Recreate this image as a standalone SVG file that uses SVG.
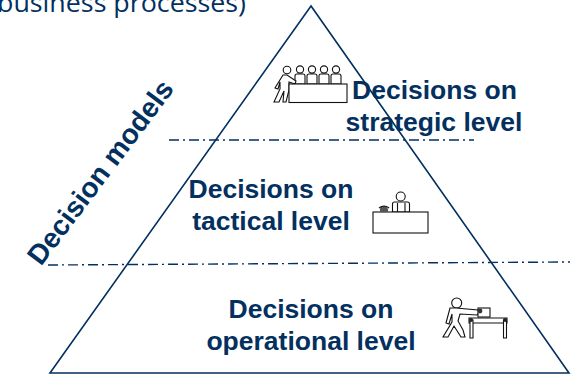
<svg xmlns="http://www.w3.org/2000/svg" width="571" height="375" viewBox="0 0 571 375">
<style>
.b{font-family:"Liberation Sans",Arial,sans-serif;font-weight:bold;font-size:26.5px;fill:#03305f;text-anchor:middle}
.t{font-family:"Open Sans","Noto Sans",sans-serif;font-size:25px;fill:#03305f}
.i{fill:#fff;stroke:#111;stroke-width:1.1}
.d{fill:none;stroke:#03305f;stroke-width:1.4;stroke-dasharray:10 4 2 4}
.r{font-size:28px}
</style>
<rect width="571" height="375" fill="#fff"/>
<text class="t" x="-3" y="12" textLength="249" lengthAdjust="spacingAndGlyphs">business processes)</text>
<g id="connectors">
<path d="M311 6L50 373H569Z" fill="none" stroke="#03305f" stroke-width="1.6"/>
<path class="d" d="M169 140H474"/>
<path class="d" d="M48 265L570 262"/>
</g>
<g id="strategic">
<g id="board">
<circle class="i" cx="300" cy="69.500" r="3.600"/><path class="i" d="M295 84V76Q295 74 297 74H303Q305 74 305 76V84Z"/>
<circle class="i" cx="312" cy="69.500" r="3.600"/><path class="i" d="M307 84V76Q307 74 309 74H315Q317 74 317 76V84Z"/>
<circle class="i" cx="324" cy="69.500" r="3.600"/><path class="i" d="M319 84V76Q319 74 321 74H327Q329 74 329 76V84Z"/>
<circle class="i" cx="336" cy="69.500" r="3.600"/><path class="i" d="M331 84V76Q331 74 333 74H339Q341 74 341 76V84Z"/>
<circle class="i" cx="287" cy="70" r="3.800"/>
<path class="i" d="M283 75L287 75L296 81L295 84L289 82L289 90L286 102H283L284 91L279 102H274L280 89L280 82L278 89L275 88Z"/>
<rect class="i" x="289" y="84" width="58" height="18.500"/>
</g>
<text class="b" x="434.500" y="99">Decisions on</text>
<text class="b" x="434" y="131">strategic level</text>
</g>
<g id="tactical">
<text class="b" x="271" y="198">Decisions on</text>
<text class="b" x="271" y="230">tactical level</text>
<g id="desk">
<circle class="i" cx="400.700" cy="196.500" r="4.500"/>
<path class="i" d="M392.500 212V204Q392.500 202 394.500 202H407.500Q409.500 202 409.500 204V212Z"/>
<path class="i" d="M397.500 203V212M405 203V212"/>
<rect class="i" x="373" y="212" width="55" height="21"/>
<path d="M380 212V209Q380 207 382 206H385Q387 207 388 209V212Z" fill="#555"/>
<path d="M379 208Q384 204 389 208" fill="none" stroke="#111" stroke-width="1.2"/>
</g>
</g>
<g id="operational">
<text class="b" x="311" y="318">Decisions on</text>
<text class="b" x="311" y="350">operational level</text>
<g id="worker">
<circle class="i" cx="456.700" cy="303" r="5"/>
<path class="i" d="M450 308L456 308L478 310L479 313L477 315L460 314L458 321L463 330L465 337H461L454 326L448 337H443L452 322L452 314L449 324L446 323Z"/>
<rect class="i" x="478" y="308" width="12" height="9"/>
<circle cx="480" cy="311" r="2.400" fill="#333"/>
<path class="i" d="M469 318H507V323H469Z"/>
<path class="i" d="M470 320H473V338H470ZM503.500 320H506.500V338H503.500Z"/>
<circle cx="471" cy="320" r="2" fill="#222"/><circle cx="505" cy="320" r="2" fill="#222"/>
</g>
</g>
<text class="b r" transform="translate(108 178) rotate(-53)">Decision models</text>
</svg>
